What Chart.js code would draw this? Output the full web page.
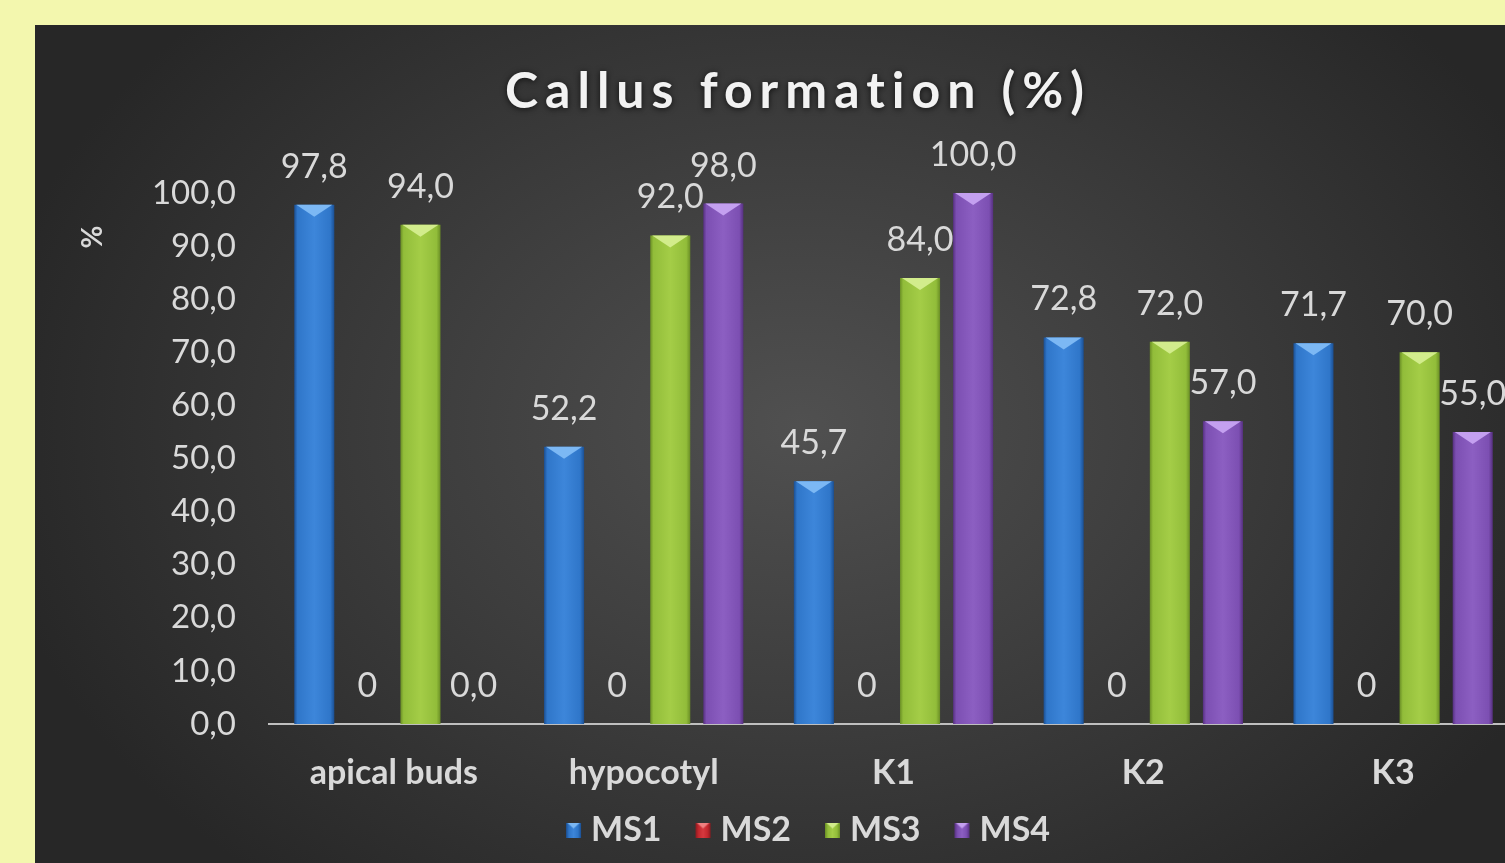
<!DOCTYPE html>
<html><head><meta charset="utf-8">
<script src="https://cdn.jsdelivr.net/npm/chart.js@4.4.1/dist/chart.umd.min.js"></script>
<style>
html,body{margin:0;padding:0;width:1505px;height:863px;overflow:hidden;background:#f3f7ae;}
#panel{position:absolute;left:35px;top:25px;width:1526px;height:838px;
background:radial-gradient(ellipse 820px 600px at 765px 400px,#505050 0%,#3e3e3e 45%,#272727 100%);}
canvas{position:absolute;left:0;top:0;}
</style></head><body>
<div id="panel"><canvas id="c" width="1526" height="838"></canvas></div>
<script>
// ---- data ----
const categories = ['apical buds', 'hypocotyl', 'K1', 'K2', 'K3'];
const seriesNames = ['MS1', 'MS2', 'MS3', 'MS4'];
const ms1 = [97.8, 52.2, 45.7, 72.8, 71.7];
const ms2 = [0, 0, 0, 0, 0];
const ms3 = [94.0, 92.0, 84.0, 72.0, 70.0];
const ms4 = [0.0, 98.0, 100.0, 57.0, 55.0];
const labelDecimals = [1, 0, 1, 1];
const yMin = 0, yMax = 100, yStep = 10;
const chartTitle = 'Callus formation (%)';
const yAxisTitle = '%';

// ---- styles ----
const palette = [
  {dark:'#1b4f93', base:'#2f76c9', light:'#3d86da', top:'#7cb8f4'},
  {dark:'#8a1a1f', base:'#c4282e', light:'#d6393f', top:'#f08080'},
  {dark:'#6a8e25', base:'#92bd3a', light:'#a4cd47', top:'#d2ec8c'},
  {dark:'#563080', base:'#7c4fb2', light:'#8c5fc2', top:'#c4a0f0'}
];
const FONT = 'Lato, Calibri, Carlito, sans-serif';
const TXT = '#d9d9d9';

function fmt(v, d){ return v.toFixed(d).replace('.', ','); }

function legendIcon(p){
  const c = document.createElement('canvas');
  c.width = 56; c.height = 15;
  const x = c.getContext('2d');
  const o = 34;
  const g = x.createLinearGradient(o,0,o+15,0);
  g.addColorStop(0,p.dark); g.addColorStop(0.2,p.base); g.addColorStop(0.5,p.light); g.addColorStop(0.8,p.base); g.addColorStop(1,p.dark);
  x.fillStyle = g; x.fillRect(o,0,15,15);
  x.fillStyle = p.top; x.beginPath(); x.moveTo(o+1,0); x.lineTo(o+14,0); x.lineTo(o+7.5,6); x.closePath(); x.fill();
  return c;
}

const seriesData = [ms1, ms2, ms3, ms4];
const datasets = seriesNames.map((n, i) => ({
  label: n,
  data: seriesData[i],
  backgroundColor: (ctx) => palette[ctx.datasetIndex].base,
  borderWidth: 0,
  categoryPercentage: 0.85,
  barPercentage: 0.755,
  pointStyle: legendIcon(palette[i])
}));

const barStyle = {
  id: 'barStyle',
  beforeDraw(chart){
    const tb = chart.titleBlock;
    if (tb && !tb._patched){
      const orig = tb.draw.bind(tb);
      tb.draw = function(a){
        const c = chart.ctx; c.save();
        c.letterSpacing = '7px';
        c.shadowColor = 'rgba(0,0,0,0.7)'; c.shadowBlur = 6; c.shadowOffsetY = 1;
        orig(a); c.restore();
      };
      tb._patched = true;
    }
  },
  beforeDatasetsDraw(chart){
    const ctx = chart.ctx;
    chart.data.datasets.forEach((ds, di) => {
      const meta = chart.getDatasetMeta(di);
      const p = palette[di];
      meta.data.forEach(el => {
        const {x, width} = el.getProps(['x','width'], true);
        const g = ctx.createLinearGradient(x - width/2, 0, x + width/2, 0);
        g.addColorStop(0, p.dark); g.addColorStop(0.08, p.base); g.addColorStop(0.5, p.light);
        g.addColorStop(0.9, p.base); g.addColorStop(1, p.dark);
        el.options.backgroundColor = g;
      });
    });
  },
  afterDatasetsDraw(chart){
    const ctx = chart.ctx;
    chart.data.datasets.forEach((ds, di) => {
      const meta = chart.getDatasetMeta(di);
      const p = palette[di];
      meta.data.forEach((el, i) => {
        const {x, y, width, base} = el.getProps(['x','y','width','base'], true);
        const v = ds.data[i];
        if (base - y > 4){
          ctx.save();
          ctx.fillStyle = p.top;
          ctx.beginPath();
          ctx.moveTo(x - width/2 + 2, y); ctx.lineTo(x + width/2 - 2, y); ctx.lineTo(x, y + 12);
          ctx.closePath(); ctx.fill();
          ctx.restore();
        }
        ctx.save();
        ctx.font = '34px ' + FONT;
        ctx.fillStyle = TXT;
        ctx.textAlign = 'center'; ctx.textBaseline = 'middle';
        ctx.fillText(fmt(v, labelDecimals[di]), x, y - 38);
        ctx.restore();
      });
    });
    // y axis title at top of axis
    ctx.save();
    ctx.translate(58, 212);
    ctx.rotate(-Math.PI/2);
    ctx.font = 'bold 28px ' + FONT;
    ctx.fillStyle = TXT;
    ctx.textAlign = 'center'; ctx.textBaseline = 'middle';
    ctx.fillText(yAxisTitle, 0, 0);
    ctx.restore();
  }
};

new Chart(document.getElementById('c'), {
  type: 'bar',
  data: { labels: categories, datasets },
  options: {
    responsive: false,
    animation: false,
    devicePixelRatio: 1,
    layout: { padding: { left: 0, right: 0, top: 0, bottom: 6 } },
    plugins: {
      title: {
        display: true, text: chartTitle, color: '#f2f2f2',
        font: { family: FONT, size: 50, weight: 'bold' },
        padding: { top: 37, bottom: 71 }
      },
      legend: {
        position: 'bottom',
        labels: {
          usePointStyle: true, boxWidth: 15, boxHeight: 15, pointStyleWidth: 28,
          color: TXT, padding: 14,
          font: { family: FONT, size: 34, weight: 'bold' }
        }
      },
      tooltip: { enabled: false }
    },
    scales: {
      x: {
        grid: { display: false, drawTicks: false },
        border: { display: true, color: '#bfbfbf', width: 2 },
        ticks: { color: TXT, padding: 29, font: { family: FONT, size: 34, weight: 'bold' } },
        afterFit: s => { s.height = 75; }
      },
      y: {
        min: yMin, max: yMax,
        grid: { display: false, drawTicks: false },
        border: { display: false },
        ticks: { stepSize: yStep, color: TXT, padding: 33,
          font: { family: FONT, size: 33 },
          callback: v => fmt(v, 1) },
        afterFit: s => { s.width = 234; }
      },
      yRight: {
        position: 'right',
        grid: { display: false, drawTicks: false },
        border: { display: false },
        ticks: { display: false },
        afterFit: s => { s.width = 43; }
      }
    }
  },
  plugins: [barStyle]
});
</script>
</body></html>
